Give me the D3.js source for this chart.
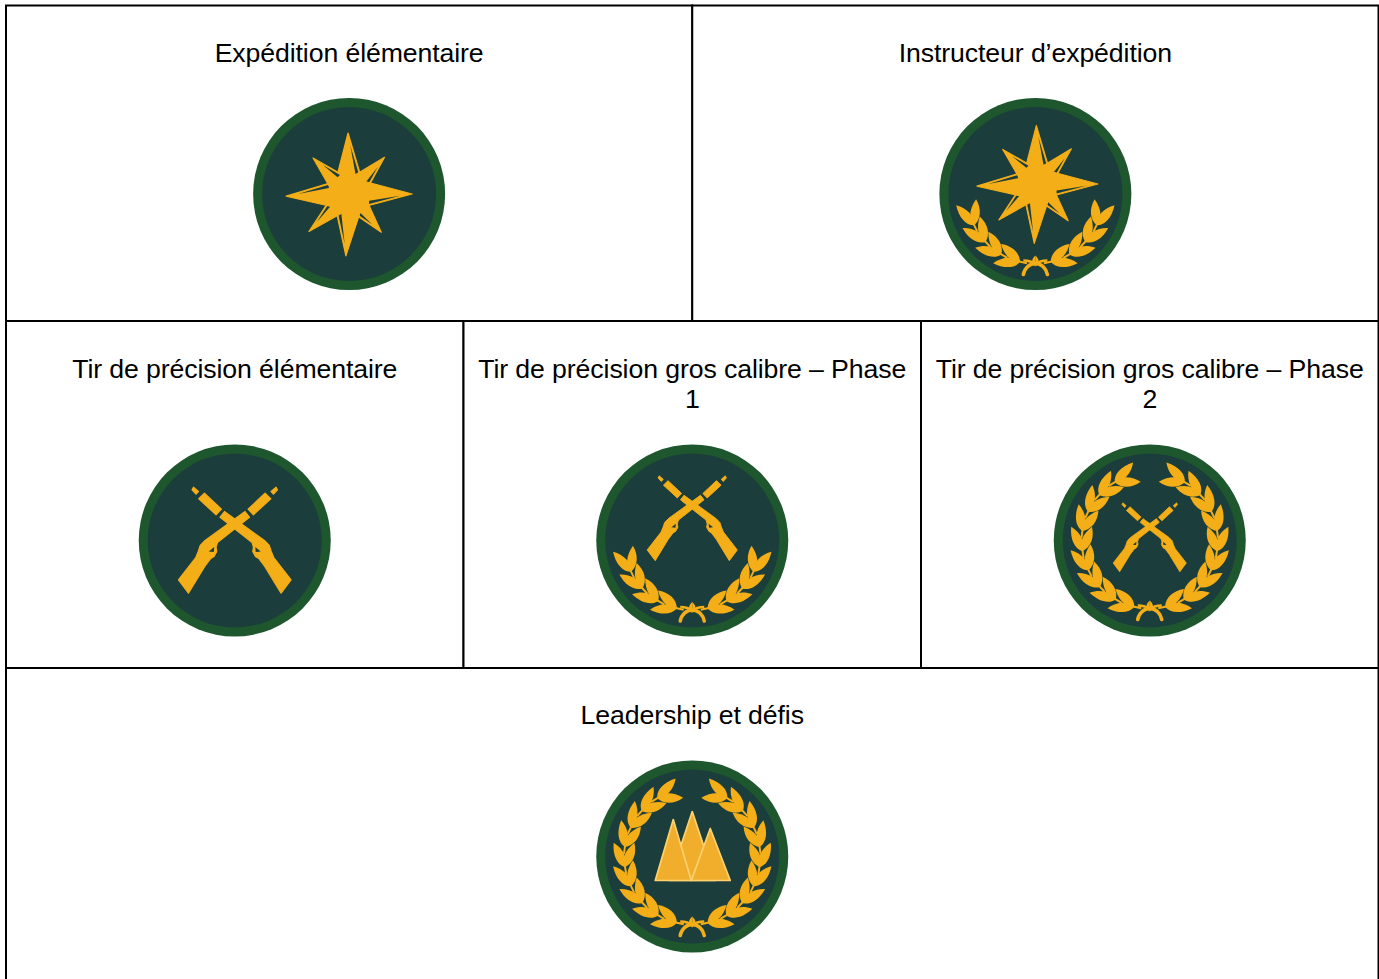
<!DOCTYPE html>
<html>
<head>
<meta charset="utf-8">
<script src="https://cdn.jsdelivr.net/npm/d3@7"></script>
<style>
   html, body { margin: 0; padding: 0; background: #fff; overflow: hidden; }
   svg { display: block; }
   text { font-family: "Liberation Sans", Arial, sans-serif; font-size: 26.67px; letter-spacing: -0.1px; fill: #000; text-anchor: middle; }
</style>
</head>
<body>
<div id="chart"></div>
<script>
"use strict";

const titles = [
   ["Expédition élémentaire"],
   ["Instructeur d’expédition"],
   ["Tir de précision élémentaire"],
   ["Tir de précision gros calibre – Phase", "1"],
   ["Tir de précision gros calibre – Phase", "2"],
   ["Leadership et défis"]
];
const emblems = ["star", "star", "rifles", "rifles", "rifles", "mountains"];
const wreaths = ["none", "half", "none", "half", "full", "full"];
const rows = [0, 0, 1, 1, 1, 2];
const columnStart = [0, 3, 0, 2, 4, 0];
const columnSpan = [3, 3, 2, 2, 2, 6];

// angle of each sprig, in degrees from the bottom of the badge
const halfWreath = [64, 47, 30, 13];
const fullWreath = [149, 132, 115, 98, 81, 64, 47, 30, 13];

const colors = { ring: "#1e562e", inner: "#1b3d3c", gold: "#f4ae18", peak: "#f0ae2c", peakEdge: "#fdd26e" };

const width = 1379, height = 979;
const x = d3.scaleLinear().domain([0, 6]).range([6, 1378.5]);
const rowEdges = [5.5, 321, 668, 1010];
const radius = 96;

const svg = d3.select("#chart").append("svg").attr("width", width).attr("height", height);

const cells = svg.selectAll("g.cell")
   .data(titles.map((t, i) => ({ i, lines: t })))
   .join("g")
   .attr("class", "cell");

cells.append("rect")
   .attr("x", d => x(columnStart[d.i]))
   .attr("y", d => rowEdges[rows[d.i]])
   .attr("width", d => x(columnStart[d.i] + columnSpan[d.i]) - x(columnStart[d.i]))
   .attr("height", d => rowEdges[rows[d.i] + 1] - rowEdges[rows[d.i]])
   .attr("fill", "#fff")
   .attr("stroke", "#000")
   .attr("stroke-width", 2);

cells.each(function (d) {
   const cx = (x(columnStart[d.i]) + x(columnStart[d.i] + columnSpan[d.i])) / 2;
   const top = rowEdges[rows[d.i]];
   const g = d3.select(this);

   g.selectAll("text")
      .data(d.lines)
      .join("text")
      .attr("x", cx)
      .attr("y", (l, n) => top + (rows[d.i] === 2 ? 55.5 : 56.5) + n * 30)
      .text(l => l);

   const cy = top + (rows[d.i] === 1 ? 219.5 : 188.5);
   const badge = g.append("g").attr("transform", `translate(${cx},${cy})`);
   drawBadge(badge, d.i);
});

function drawBadge(g, i) {
   g.append("circle").attr("r", radius).attr("fill", colors.ring);
   g.append("circle").attr("r", radius - 9).attr("fill", colors.inner);

   if (emblems[i] === "star") {
      const hasWreath = wreaths[i] !== "none";
      drawStar(g.append("g").attr("transform", hasWreath ? "translate(2,-10) scale(0.96)" : "translate(0,0)"));
   } else if (emblems[i] === "rifles") {
      const t = { none: "translate(0,0)", half: "translate(0,-22) scale(0.8)", full: "translate(0,-3) scale(0.65)" }[wreaths[i]];
      drawRifles(g.append("g").attr("transform", t));
   } else {
      drawMountains(g);
   }

   if (wreaths[i] === "half") drawWreath(g, halfWreath, 1.5);
   if (wreaths[i] === "full") drawWreath(g, fullWreath, 0);
}

function drawStar(g) {
   const rays = [
      { a: -1, r: 61 }, { a: 44, r: 51 }, { a: 90, r: 63 }, { a: 140, r: 50 },
      { a: 183, r: 62 }, { a: 227, r: 55 }, { a: 268, r: 63 }, { a: 315, r: 51 }
   ];
   const point = (a, r, off) => {
      const t = a * Math.PI / 180;
      return [r * Math.sin(t) + off * Math.cos(t), -r * Math.cos(t) + off * Math.sin(t)];
   };
   const line = d3.line();
   rays.forEach(ray => {
      const w = ray.r > 58 ? 13 : 10;
      const base = 14;
      g.append("path")
         .attr("d", line([point(ray.a, ray.r, 0), point(ray.a, base, w), point(ray.a, base, -w)]) + "Z")
         .attr("fill", colors.gold)
         .attr("stroke", colors.gold)
         .attr("stroke-width", 1.2)
         .attr("stroke-linejoin", "round");
      // thin dark slit on the clockwise side of each ray
      const edge = w * (ray.r - 20) / (ray.r - base);
      g.append("path")
         .attr("d", line([
            point(ray.a, ray.r - 12, w * 12 / (ray.r - base) - 1.4),
            point(ray.a, 20, edge - 1.4),
            point(ray.a, 20, edge - 4.6)
         ]) + "Z")
         .attr("fill", colors.inner);
   });
   g.append("circle").attr("r", 20).attr("fill", colors.gold);
}

function drawRifles(g) {
   const barrel = "M13.3,-31.3 L30.3,-47.3 L36,-41.7 L18.7,-25.7 Z";
   const muzzle = "M36.3,-49 L41.3,-53.3 L42.7,-50.7 L38.7,-46.3 Z";
   const body = "M10.3,-29 L14.7,-23.3 L-17.3,2 L-18.7,6.7 L-18,11 L-20.7,16 L-24,18 L-30,26 L-46.3,52.7 L-56.3,39.3 L-39,17 L-36.5,11 L-34.5,5 L-29.7,0 Z";
   [1, -1].forEach(side => {
      const rifle = g.append("g").attr("transform", `scale(${side},1)`);
      [barrel, muzzle, body].forEach(d => {
         rifle.append("path")
            .attr("d", d)
            .attr("fill", colors.gold)
            .attr("stroke", colors.gold)
            .attr("stroke-width", 1.2)
            .attr("stroke-linejoin", "round");
      });
      // trigger guard opening
      rifle.append("path")
         .attr("d", "M-26,11 L-20.5,6.5 L-21,11.5 Z")
         .attr("fill", colors.inner);
   });
}

function drawMountains(g) {
   const peaks = [
      [[0, -45], [-23, 24], [23, 24]],
      [[-19, -37], [-37, 24], [-1, 24]],
      [[18, -28], [-1, 24], [38, 24]]
   ];
   const line = d3.line();
   g.selectAll("path.peak")
      .data(peaks)
      .join("path")
      .attr("class", "peak")
      .attr("d", d => line(d) + "Z")
      .attr("fill", colors.peak)
      .attr("stroke", colors.peakEdge)
      .attr("stroke-width", 1.7)
      .attr("stroke-linejoin", "round");
}

function leafPath(length, bulge) {
   return `M0,0 C${length * 0.2},${-bulge} ${length * 0.6},${-bulge} ${length},0 C${length * 0.65},${bulge} ${length * 0.25},${bulge} 0,0 Z`;
}

function drawWreath(g, angles, dy) {
   const root = g.append("g").attr("transform", `translate(0,${dy})`);
   [1, -1].forEach(side => {
      const half = root.append("g").attr("transform", `scale(${side},1)`);
      const wreathRadius = 68;
      angles.forEach(phi => {
         const t = phi * Math.PI / 180;
         const bx = -wreathRadius * Math.sin(t);
         const by = wreathRadius * Math.cos(t);
         const sprig = half.append("g").attr("transform", `translate(${bx},${by}) rotate(${180 + phi})`);
         sprig.append("path").attr("d", "M-7,0 L6,0").attr("stroke", colors.gold).attr("stroke-width", 2).attr("fill", "none");
         // outer and inner leaf
         sprig.append("path").attr("d", leafPath(27, 6.3)).attr("transform", "rotate(-16)").attr("fill", colors.gold);
         sprig.append("path").attr("d", leafPath(26, 6.3)).attr("transform", "rotate(30)").attr("fill", colors.gold);
      });
      half.append("path")
         .attr("d", "M0,69 C-3,66 -6,65 -12,65")
         .attr("stroke", colors.gold).attr("stroke-width", 2.4).attr("fill", "none");
      half.append("path")
         .attr("d", "M0,68 C-6,68 -11,73 -12,79")
         .attr("stroke", colors.gold).attr("stroke-width", 3.6).attr("stroke-linecap", "round").attr("fill", "none");
      half.append("path")
         .attr("d", "M0,60 C3.5,63 5,67 0,71 Z")
         .attr("fill", colors.gold);
   });
}
</script>
</body>
</html>
